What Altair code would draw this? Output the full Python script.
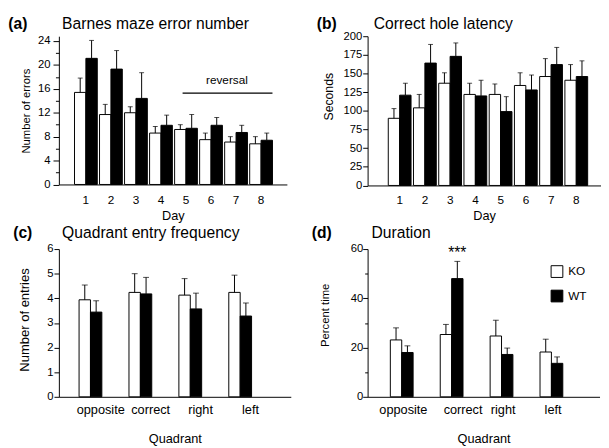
import altair as alt
import pandas as pd

FONT = "Liberation Sans"

# ---------------- data ----------------
groups = ["KO", "WT"]
days = ["1", "2", "3", "4", "5", "6", "7", "8"]
quadrants = ["opposite", "correct", "right", "left"]

# (a) Barnes maze error number
a_ko = [15.4, 11.7, 12.0, 8.6, 9.2, 7.5, 7.1, 6.8]
a_ko_err = [17.8, 13.4, 13.0, 9.7, 10.0, 8.6, 8.0, 8.0]
a_wt = [21.1, 19.3, 14.4, 9.9, 9.4, 9.9, 8.7, 7.4]
a_wt_err = [24.1, 22.4, 18.7, 11.6, 11.7, 11.2, 9.9, 8.6]

# (b) Correct hole latency
b_ko = [90, 104, 137, 122, 122, 134, 146, 141]
b_ko_err = [103, 122, 151, 137, 136, 151, 170, 162]
b_wt = [121, 164, 173, 120, 99, 128, 162, 146]
b_wt_err = [137, 189, 191, 141, 119, 148, 185, 167]

# (c) Quadrant entry frequency
c_ko = [3.94, 4.24, 4.13, 4.24]
c_ko_err = [4.54, 5.0, 4.8, 4.94]
c_wt = [3.44, 4.18, 3.57, 3.28]
c_wt_err = [3.9, 4.85, 4.21, 3.81]

# (d) Duration
d_ko = [23.1, 25.3, 24.7, 18.2]
d_ko_err = [28.0, 29.4, 31.1, 23.4]
d_wt = [18.0, 48.0, 17.2, 13.6]
d_wt_err = [20.7, 55.0, 19.8, 16.2]


def long_df(cats, ko, ko_err, wt, wt_err):
    rows = []
    for i, c in enumerate(cats):
        rows.append({"cat": c, "group": "KO", "value": ko[i], "err": ko_err[i]})
        rows.append({"cat": c, "group": "WT", "value": wt[i], "err": wt_err[i]})
    return pd.DataFrame(rows)


def text_layer(text, dx, dy, size=16, bold=False):
    return alt.Chart(pd.DataFrame({"t": [text]})).mark_text(
        align="left", baseline="alphabetic", font=FONT, fontSize=size,
        fontWeight="bold" if bold else "normal", color="black"
    ).encode(text="t:N", x=alt.value(dx), y=alt.value(dy))


def y_axis(title, values, major, tick_major, tick_minor, label_pad, title_x, title_y, title_size):
    return alt.Axis(
        values=values, tickCount=50, format="d",
        labelExpr=f"datum.value % {major} === 0 ? datum.label : ''",
        tickSize={"condition": {"test": f"datum.value % {major} === 0", "value": tick_major}, "value": tick_minor},
        labelPadding=label_pad, labelFontSize=11.5, labelOverlap=False,
        title=title, titleX=title_x, titleY=title_y, titleAngle=270,
        titleBaseline="middle", titleAlign="center", titleFontSize=title_size,
        grid=False,
    )


def x_axis(title, label_size, label_pad, title_y, title_x, label_offset=None):
    kw = dict(
        title=title, labelAngle=0, ticks=False, tickSize=0, labelPadding=label_pad,
        labelFontSize=label_size, labelOverlap=False, titleFontSize=13, titleY=title_y, titleX=title_x,
        titleBaseline="alphabetic", titleAlign="center", grid=False,
    )
    if label_offset is not None:
        kw["labelOffset"] = label_offset
    return alt.Axis(**kw)


def bar_layers(df, cats, xscale, xaxis, yscale, yaxis, cap, legend=None):
    x = alt.X("cat:N", scale=xscale, axis=xaxis)
    xo = alt.XOffset("group:N", scale=alt.Scale(domain=groups, paddingInner=0, paddingOuter=0))
    bars = alt.Chart(df).mark_bar(stroke="black", strokeWidth=1).encode(
        x=x, xOffset=xo,
        y=alt.Y("value:Q", scale=yscale, axis=yaxis),
        fill=alt.Fill("group:N", scale=alt.Scale(domain=groups, range=["white", "black"]), legend=legend),
    )
    rules = alt.Chart(df).mark_rule(color="black", strokeWidth=1).encode(
        x="cat:N", xOffset="group:N", y="value:Q", y2="err:Q"
    )
    caps = alt.Chart(df).mark_tick(color="black", thickness=1, size=cap, orient="horizontal").encode(
        x="cat:N", xOffset="group:N", y="err:Q"
    )
    return [bars, rules, caps]


# ---------------- panel (a) ----------------
WA, HA = 233, 151.5
df_a = long_df(days, a_ko, a_ko_err, a_wt, a_wt_err)
rev_df = pd.DataFrame({"cat": ["5"], "cat_end": ["8"], "level": [15.3]})
rev_txt = pd.DataFrame({"cat": ["7"], "level": [16.8], "t": ["reversal"]})
layers_a = bar_layers(
    df_a, days,
    alt.Scale(domain=days, paddingInner=0.09, paddingOuter=0.6, align=0.52),
    x_axis("Day", 12, 10, 36, WA / 2),
    alt.Scale(domain=[0, 24.8], nice=False),
    y_axis("Number of errors", list(range(0, 25, 2)), 4, 6, 3.5, 3, -33.3, 76, 11.5),
    5,
)
rev_line = alt.Chart(rev_df).mark_rule(color="black", strokeWidth=1.3).encode(
    x=alt.X("cat:N", bandPosition=0.35), x2=alt.X2("cat_end:N", bandPosition=1.0), y="level:Q"
)
rev_label = alt.Chart(rev_txt).mark_text(
    font=FONT, fontSize=12, color="black", align="center", baseline="alphabetic"
).encode(x=alt.X("cat:N", bandPosition=0.1), y="level:Q", text="t:N")
panel_a = alt.layer(
    *layers_a, rev_line, rev_label,
    text_layer("(a)", -51.7, -7.5, bold=True),
    text_layer("Barnes maze error number", 3.3, -7.5),
).properties(width=WA, height=HA)

# ---------------- panel (b) ----------------
WB, HB = 238, 152.5
df_b = long_df(days, b_ko, b_ko_err, b_wt, b_wt_err)
layers_b = bar_layers(
    df_b, days,
    alt.Scale(domain=days, paddingInner=0.09, paddingOuter=0.66, align=0.62),
    x_axis("Day", 12, 9, 35, WB / 2),
    alt.Scale(domain=[0, 200], nice=False),
    y_axis("Seconds", list(range(0, 201, 25)), 25, 5, 5, 1, -40, 61.3, 12.5),
    5,
)
panel_b = alt.layer(
    *layers_b,
    text_layer("(b)", -52, -7.5, bold=True),
    text_layer("Correct hole latency", 6.3, -7.5),
).properties(width=WB, height=HB)

# ---------------- panel (c) ----------------
WC, HC = 237, 151
df_c = long_df(quadrants, c_ko, c_ko_err, c_wt, c_wt_err)
layers_c = bar_layers(
    df_c, quadrants,
    alt.Scale(domain=quadrants, paddingInner=0.131, paddingOuter=0.389, align=0.52),
    x_axis("Quadrant", 13, 7, 46.5, WC / 2),
    alt.Scale(domain=[0, 6], nice=False),
    y_axis("Number of entries", [i / 2 for i in range(0, 13)], 1, 5, 2.5, 1, -35, 72, 13.3),
    6,
)
panel_c = alt.layer(
    *layers_c,
    text_layer("(c)", -46.7, -11.2, bold=True),
    text_layer("Quadrant entry frequency", 3.3, -11.2),
).properties(width=WC, height=HC)

# ---------------- panel (d) ----------------
WD, HD = 237, 151
df_d = long_df(quadrants, d_ko, d_ko_err, d_wt, d_wt_err)
star_df = pd.DataFrame({"cat": ["correct"], "group": ["WT"], "level": [56.5], "t": ["***"]})
layers_d = bar_layers(
    df_d, quadrants,
    alt.Scale(domain=quadrants, paddingInner=0.124, paddingOuter=0.386, align=0.59),
    x_axis("Quadrant", 13, 7, 46.5, WD / 2,
           label_offset={"condition": {"test": "datum.value === 'correct'", "value": 1}, "value": -9}),
    alt.Scale(domain=[0, 60], nice=False),
    y_axis("Percent time", list(range(0, 61, 10)), 20, 5, 3, 0, -42.5, 67.2, 11.5),
    6,
    legend=alt.Legend(
        orient="none", legendX=187, legendY=16.5, title=None,
        symbolType="square", symbolSize=144, symbolStrokeColor="black", symbolStrokeWidth=1,
        labelFont=FONT, labelFontSize=12, labelColor="black", rowPadding=8, labelOffset=5, padding=0,
    ),
)
stars = alt.Chart(star_df).mark_text(
    font=FONT, fontSize=16, color="black", align="center", baseline="alphabetic"
).encode(x="cat:N", xOffset="group:N", y="level:Q", text="t:N")
panel_d = alt.layer(
    *layers_d, stars,
    text_layer("(d)", -57, -11.2, bold=True),
    text_layer("Duration", 4, -11.2),
).properties(width=WD, height=HD)

chart = alt.concat(
    panel_a, panel_b, panel_c, panel_d,
    columns=2, spacing={"row": 64.5, "column": 78.5}, bounds="flush",
).resolve_scale(
    fill="independent"
).properties(
    padding={"left": 0, "top": 3, "right": 0, "bottom": 0}
).configure_view(
    stroke=None
).configure_axis(
    labelFont=FONT, titleFont=FONT, labelColor="black", titleColor="black",
    domainColor="black", tickColor="black", domainWidth=1, tickWidth=1,
    titleFontWeight="normal", grid=False, labelOverlap=False,
)

chart.save("out.html", embed_options={"renderer": "svg", "actions": False})
